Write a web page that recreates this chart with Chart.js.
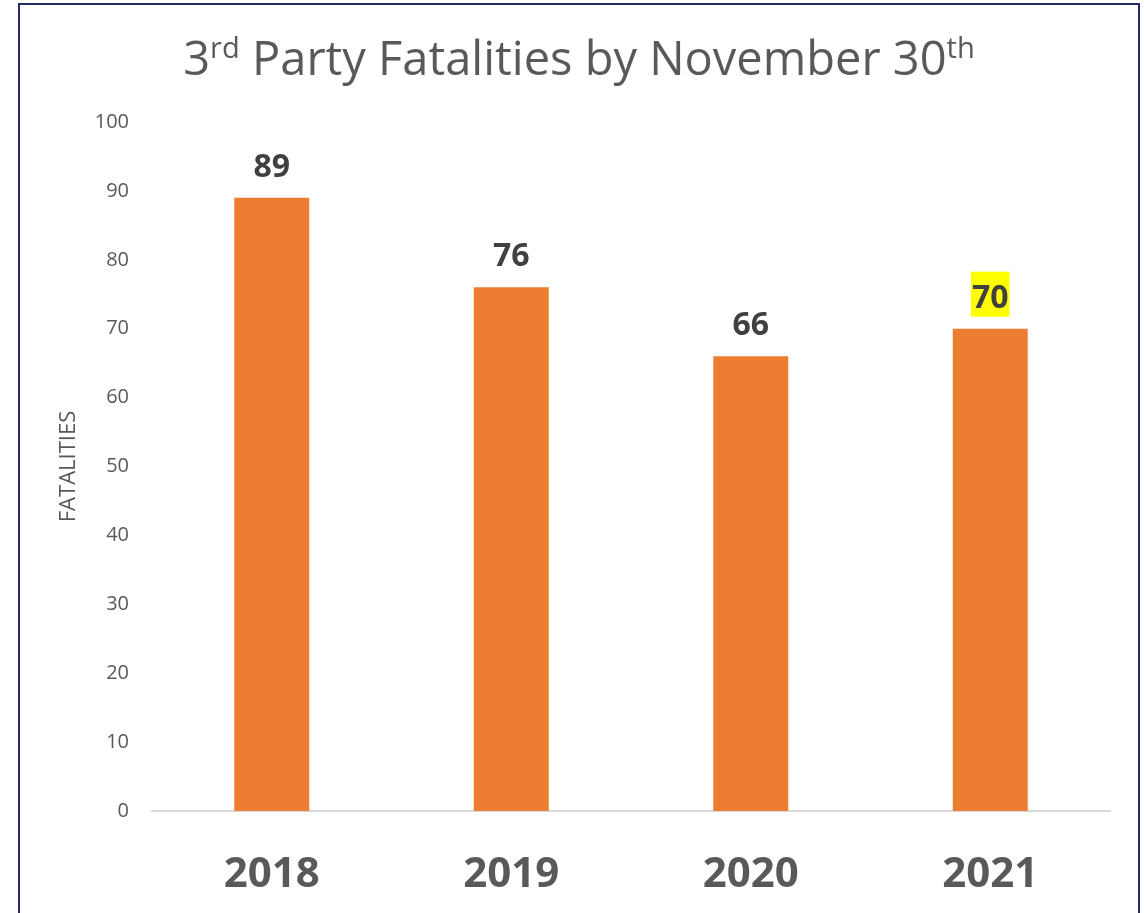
<!DOCTYPE html>
<html>
<head>
<meta charset="utf-8">
<title>3rd Party Fatalities by November 30th</title>
<script src="https://cdn.jsdelivr.net/npm/chart.js@4/dist/chart.umd.min.js"></script>
<style>
  html, body { margin: 0; padding: 0; background: #fff; overflow: hidden; }
  #wrap { position: relative; width: 1144px; height: 913px; }
  #frame {
    position: absolute; left: 18px; top: 3px; width: 1118px; height: 960px;
    border: 2px solid #262a6b; box-sizing: content-box;
  }
  #title {
    position: absolute; left: 0; top: 34px; width: 1158px; text-align: center;
    font-family: "Open Sans", sans-serif; font-size: 47px; line-height: 47px;
    color: #595959; white-space: nowrap;
  }
  #title sup { font-size: 0.62em; line-height: 0; vertical-align: 0.58em; }
  canvas { position: absolute; left: 0; top: 0; }
</style>
</head>
<body>
<div id="wrap">
  <div id="frame"></div>
  <canvas id="barChart" width="1144" height="913"></canvas>
  <div id="title">3<sup>rd</sup> Party Fatalities by November 30<sup>th</sup></div>
</div>
<script>
// chart data
const years = ["2018", "2019", "2020", "2021"];
const fatalities = [89, 76, 66, 70];
const highlighted = [false, false, false, true];
const yTicks = [0, 10, 20, 30, 40, 50, 60, 70, 80, 90, 100];

// value labels over the bars (the 2021 one has a yellow highlight)
const valueLabels = {
    id: "valueLabels",
    afterDatasetsDraw(chart) {
        const ctx = chart.ctx;
        const meta = chart.getDatasetMeta(0);
        ctx.save();
        ctx.font = 'bold 32px "Open Sans"';
        ctx.textAlign = "center";
        ctx.textBaseline = "alphabetic";
        meta.data.forEach((bar, i) => {
            const text = String(fatalities[i]);
            const baseY = bar.y - 21;
            if (highlighted[i]) {
                const w = ctx.measureText(text).width + 2;
                ctx.fillStyle = "#ffff00";
                ctx.fillRect(bar.x - w / 2, bar.y - 57, w, 45);
            }
            ctx.fillStyle = "#404040";
            ctx.fillText(text, bar.x, baseY);
        });
        ctx.restore();
    }
};

const ctx = document.getElementById("barChart").getContext("2d");
new Chart(ctx, {
    type: "bar",
    data: {
        labels: years,
        datasets: [{
            label: "Fatalities",
            data: fatalities,
            backgroundColor: "#ed7d31",
            categoryPercentage: 1,
            barPercentage: 0.313
        }]
    },
    options: {
        responsive: false,
        animation: false,
        devicePixelRatio: 1,
        layout: { padding: { top: 122, right: 34, bottom: 0, left: 0 } },
        plugins: {
            legend: { display: false },
            tooltip: { enabled: false }
        },
        scales: {
            x: {
                grid: { display: false, drawTicks: false },
                border: { display: true, color: "#d9d9d9", width: 2 },
                ticks: {
                    color: "#595959",
                    font: { family: "Open Sans", size: 42, weight: "bold" },
                    padding: 39
                },
                afterFit: s => { s.height = 102; }
            },
            y: {
                min: 0,
                max: 100,
                afterBuildTicks: s => { s.ticks = yTicks.map(v => ({ value: v })); },
                grid: { display: false, drawTicks: false },
                border: { display: false },
                ticks: {
                    color: "#595959",
                    font: { family: "Open Sans", size: 20 },
                    padding: 23
                },
                title: {
                    display: true,
                    text: "FATALITIES",
                    color: "#595959",
                    font: { family: "Open Sans", size: 22 },
                    padding: { top: 56, bottom: 0 }
                },
                afterFit: s => { s.width = 152; }
            }
        }
    },
    plugins: [valueLabels]
});
</script>
</body>
</html>
